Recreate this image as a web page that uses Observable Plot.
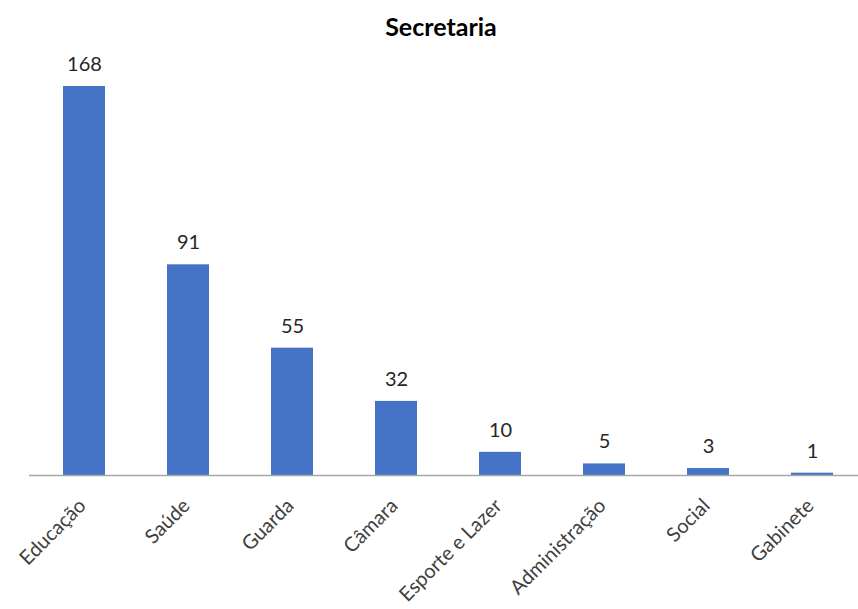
<!DOCTYPE html>
<html>
<head>
<meta charset="utf-8">
<script src="https://cdn.jsdelivr.net/npm/d3@7"></script>
<script src="https://cdn.jsdelivr.net/npm/@observablehq/plot@0.6"></script>
<style>
  body { margin: 0; background: #fff; font-family: Lato, "Open Sans", sans-serif; }
  #title { height: 50px; width: 882px; text-align: center; font-weight: bold; font-size: 25px; line-height: 52px; color: #000; }
  #chart { width: 858px; overflow: hidden; }
  #chart svg { display: block; max-width: none !important; }
</style>
</head>
<body>
<div id="title">Secretaria</div>
<div id="chart"></div>
<script>
const categories = ["Educação", "Saúde", "Guarda", "Câmara", "Esporte e Lazer", "Administração", "Social", "Gabinete"];
const values = [168, 91, 55, 32, 10, 5, 3, 1];
const data = categories.map((c, i) => ({ category: c, value: values[i] }));

const chart = Plot.plot({
  width: 867,
  height: 559,
  marginLeft: 29,
  marginRight: 0,
  marginTop: 36,
  marginBottom: 134,
  style: { fontFamily: "Lato, 'Open Sans', sans-serif", background: "#fff", maxWidth: "none" },
  x: { domain: categories, paddingInner: 0.6, paddingOuter: 0.3, label: null },
  y: { domain: [0, 168], axis: null },
  marks: [
    Plot.barY(data, { x: "category", y: "value", fill: "#4472C4" }),
    Plot.ruleY([0], { stroke: "#a6a6a6", strokeWidth: 1.5 }),
    Plot.text(data, { x: "category", y: "value", text: d => String(d.value), dy: -22, fontSize: 20, fill: "#262626" }),
    Plot.axisX({ tickSize: 0, tickRotate: -45, tickPadding: 27, dx: -2, fontSize: 20, fill: "#404040", label: null })
  ]
});
document.getElementById("chart").appendChild(chart);
</script>
</body>
</html>
